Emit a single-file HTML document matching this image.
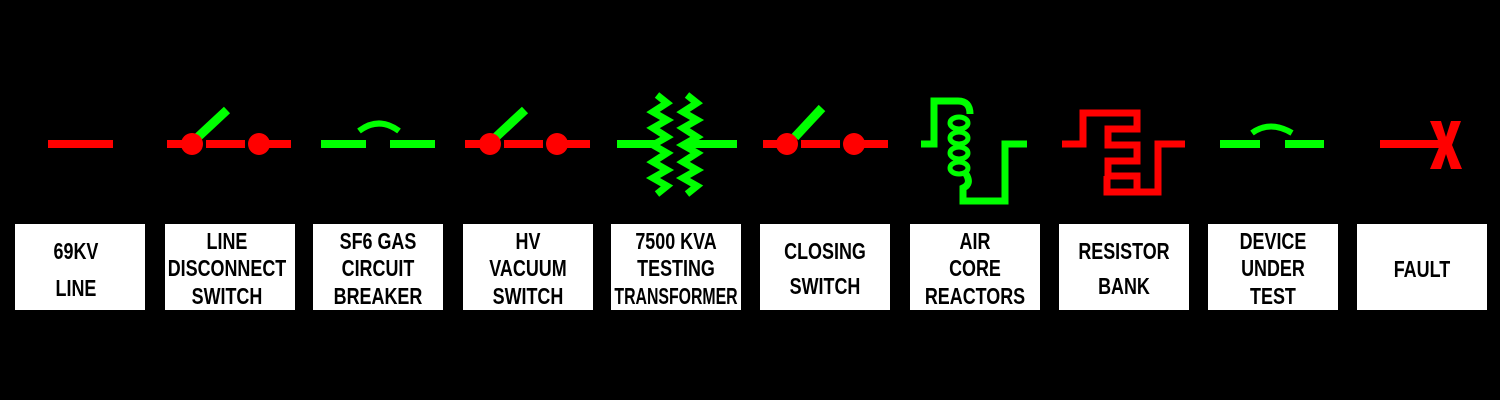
<!DOCTYPE html>
<html><head><meta charset="utf-8"><style>
html,body{margin:0;padding:0;background:#000;width:1500px;height:400px;overflow:hidden}
text{font-family:"Liberation Sans",sans-serif;font-weight:bold;font-size:23px;fill:#000;text-anchor:middle}
</style></head><body>
<svg width="1500" height="400" viewBox="0 0 1500 400" xmlns="http://www.w3.org/2000/svg">
<rect width="1500" height="400" fill="#000"/>
<g fill="none" stroke-width="8" stroke-linecap="butt">
<line x1="48" y1="144" x2="113" y2="144" stroke="#f00"/>
<line x1="167" y1="144" x2="190" y2="144" stroke="#f00"/>
<line x1="206" y1="144" x2="245" y2="144" stroke="#f00"/>
<line x1="259" y1="144" x2="291" y2="144" stroke="#f00"/>
<line x1="198" y1="137" x2="227" y2="110" stroke="#0f0" stroke-width="9"/>
<line x1="321" y1="144" x2="366" y2="144" stroke="#0f0"/>
<line x1="390" y1="144" x2="435" y2="144" stroke="#0f0"/>
<path d="M359 131 Q379 116 399 131" stroke="#0f0" stroke-width="6"/>
<line x1="465" y1="144" x2="488" y2="144" stroke="#f00"/>
<line x1="504" y1="144" x2="543" y2="144" stroke="#f00"/>
<line x1="557" y1="144" x2="590" y2="144" stroke="#f00"/>
<line x1="496" y1="137" x2="525" y2="110" stroke="#0f0" stroke-width="9"/>
<line x1="617" y1="144" x2="660" y2="144" stroke="#0f0"/>
<line x1="688" y1="144" x2="737" y2="144" stroke="#0f0"/>
<polyline points="657,95 667,103 653,112 667,120 653,128 667,137 653,145 667,153 653,162 667,170 653,178 667,186 657,194" stroke="#0f0" stroke-width="7"/>
<polyline points="687,95 697,103 683,112 697,120 683,128 697,137 683,145 697,153 683,162 697,170 683,178 697,186 687,194" stroke="#0f0" stroke-width="7"/>
<line x1="763" y1="144" x2="785" y2="144" stroke="#f00"/>
<line x1="801" y1="144" x2="840" y2="144" stroke="#f00"/>
<line x1="854" y1="144" x2="888" y2="144" stroke="#f00"/>
<line x1="795" y1="137" x2="822" y2="108" stroke="#0f0" stroke-width="9"/>
<path d="M921 144 H934 V101 H958 Q970 101 970 114" stroke="#0f0" stroke-width="7"/>
<g stroke="#0f0" stroke-width="5">
<ellipse cx="959" cy="123" rx="9" ry="6"/>
<ellipse cx="959" cy="138" rx="9" ry="6"/>
<ellipse cx="959" cy="153" rx="9" ry="6"/>
<ellipse cx="959" cy="168" rx="9" ry="6"/>
</g>
<path d="M966 174 Q972 184 963 188 V201 H1005 V144 H1027" stroke="#0f0" stroke-width="7"/>
<path d="M1062 144 H1083 V113 H1137 V129 H1108 V145 H1137 V161 H1108 V176 H1137 V192 H1107 M1107 176 V192 H1158 V144 H1185" stroke="#f00" stroke-width="7"/>
<line x1="1220" y1="144" x2="1260" y2="144" stroke="#0f0"/>
<line x1="1285" y1="144" x2="1324" y2="144" stroke="#0f0"/>
<path d="M1252 133 Q1270 120 1292 133" stroke="#0f0" stroke-width="6"/>
<line x1="1380" y1="144" x2="1442" y2="144" stroke="#f00"/>
</g>
<g fill="#f00">
<circle cx="192" cy="144" r="11"/><circle cx="259" cy="144" r="11"/>
<circle cx="490" cy="144" r="11"/><circle cx="557" cy="144" r="11"/>
<circle cx="787" cy="144" r="11"/><circle cx="854" cy="144" r="11"/>
<polygon points="1430,121 1441,121 1446,137 1451,121 1461,121 1452,145 1462,169 1451,169 1446,154 1441,169 1430,169 1440,145"/>
</g>
<g fill="#fff">
<rect x="15" y="224" width="130" height="86"/>
<rect x="165" y="224" width="130" height="86"/>
<rect x="313" y="224" width="130" height="86"/>
<rect x="463" y="224" width="130" height="86"/>
<rect x="611" y="224" width="130" height="86"/>
<rect x="760" y="224" width="130" height="86"/>
<rect x="910" y="224" width="130" height="86"/>
<rect x="1059" y="224" width="130" height="86"/>
<rect x="1208" y="224" width="130" height="86"/>
<rect x="1357" y="224" width="130" height="86"/>
</g>
<g transform="scale(0.78,1)">
<text x="97.4" y="259">69KV</text><text x="97.4" y="296">LINE</text>
<text x="291" y="249">LINE</text><text x="291" y="276">DISCONNECT</text><text x="291" y="304">SWITCH</text>
<text x="484.6" y="249">SF6 GAS</text><text x="484.6" y="276">CIRCUIT</text><text x="484.6" y="304">BREAKER</text>
<text x="676.9" y="249">HV</text><text x="676.9" y="276">VACUUM</text><text x="676.9" y="304">SWITCH</text>
<text x="866.7" y="249">7500 KVA</text><text x="866.7" y="276">TESTING</text><text x="866.7" y="304" textLength="158" lengthAdjust="spacingAndGlyphs">TRANSFORMER</text>
<text x="1057.7" y="259">CLOSING</text><text x="1057.7" y="294">SWITCH</text>
<text x="1250" y="249">AIR</text><text x="1250" y="276">CORE</text><text x="1250" y="304">REACTORS</text>
<text x="1441" y="259">RESISTOR</text><text x="1441" y="294">BANK</text>
<text x="1632" y="249">DEVICE</text><text x="1632" y="276">UNDER</text><text x="1632" y="304">TEST</text>
<text x="1823" y="277">FAULT</text>
</g>
</svg>
</body></html>
